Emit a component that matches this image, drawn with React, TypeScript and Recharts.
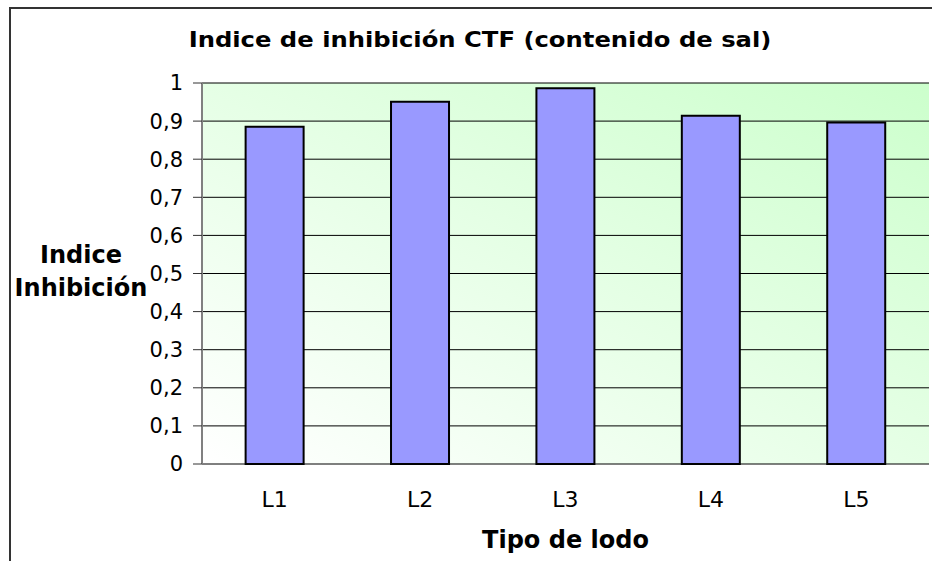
import React from "react";
import {
  BarChart,
  Bar,
  XAxis,
  YAxis,
  CartesianGrid,
  Label,
} from "recharts";

const categories = ["L1", "L2", "L3", "L4", "L5"];
const inhibition = [0.885, 0.951, 0.986, 0.914, 0.896];
const yTicks = [0, 0.1, 0.2, 0.3, 0.4, 0.5, 0.6, 0.7, 0.8, 0.9, 1];
const boundaryTicks = [0, 1, 2, 3, 4, 5];

const data = categories.map((name, i) => ({ name, value: inhibition[i] }));

const FONT = "'DejaVu Sans', 'Liberation Sans', Arial, sans-serif";
const GRAY = "#808080";

const YLabel = ({ viewBox }: any) => {
  const cx = viewBox.x + 81;
  return (
    <text
      textAnchor="middle"
      fontFamily={FONT}
      fontWeight="bold"
      fontSize={24}
      fill="#000"
    >
      <tspan x={cx} y={263}>
        Indice
      </tspan>
      <tspan x={cx} y={296}>
        Inhibición
      </tspan>
    </text>
  );
};

const XLabel = ({ viewBox }: any) => (
  <text
    x={viewBox.x + viewBox.width / 2}
    y={viewBox.y + 84}
    textAnchor="middle"
    fontFamily={FONT}
    fontWeight="bold"
    fontSize={24}
    fill="#000"
  >
    Tipo de lodo
  </text>
);

export default function App() {
  return (
    <div
      style={{
        position: "absolute",
        left: 0,
        top: 0,
        width: 932,
        height: 561,
        background: "#fff",
        overflow: "hidden",
        fontFamily: FONT,
      }}
    >
      <div
        style={{
          position: "absolute",
          left: 9,
          top: 7,
          width: 940,
          height: 570,
          borderLeft: "2px solid #333",
          borderTop: "2px solid #333",
        }}
      />
      <div
        style={{
          position: "absolute",
          left: 0,
          top: 30,
          width: 960,
          textAlign: "center",
          fontSize: 21,
          lineHeight: "21px",
          fontWeight: "bold",
          color: "#000",
          transform: "scaleX(1.155)",
        }}
      >
        Indice de inhibición CTF (contenido de sal)
      </div>
      <div style={{ position: "absolute", left: 0, top: 0 }}>
        <BarChart
          width={932}
          height={561}
          data={data}
          margin={{ top: 83, right: 3, bottom: 0, left: 0 }}
          barCategoryGap="30%"
        >
          <defs>
            <linearGradient id="plotBg" x1="0" y1="1" x2="1" y2="0">
              <stop offset="0%" stopColor="#ffffff" />
              <stop offset="100%" stopColor="#ccffcc" />
            </linearGradient>
          </defs>
          <CartesianGrid
            vertical={false}
            stroke="#000"
            fill="url(#plotBg)"
            fillOpacity={1}
            yAxisId="left"
            xAxisId="cat"
          />
          <XAxis
            xAxisId="grid"
            type="number"
            domain={[0, 5]}
            ticks={boundaryTicks}
            height={0}
            tickSize={7}
            tickFormatter={() => ""}
            axisLine={{ stroke: GRAY, strokeWidth: 2 }}
            tickLine={{ stroke: "#333" }}
            allowDataOverflow
          />
          <XAxis
            xAxisId="cat"
            dataKey="name"
            height={97}
            axisLine={false}
            tickLine={false}
            tickSize={0}
            tickMargin={27}
            tick={{ fill: "#000", fontSize: 22, fontFamily: FONT }}
          >
            <Label content={<XLabel />} />
          </XAxis>
          <XAxis
            xAxisId="top"
            orientation="top"
            dataKey="name"
            height={0}
            tick={false}
            axisLine={{ stroke: GRAY, strokeWidth: 2 }}
          />
          <YAxis
            yAxisId="left"
            width={202}
            domain={[0, 1]}
            ticks={yTicks}
            tickSize={9}
            tickMargin={10}
            tickFormatter={(v: number) => String(v).replace(".", ",")}
            tick={{ fill: "#000", fontSize: 21, fontFamily: FONT }}
            axisLine={{ stroke: GRAY, strokeWidth: 2 }}
            tickLine={{ stroke: "#333" }}
          >
            <Label content={<YLabel />} />
          </YAxis>
          <YAxis
            yAxisId="right"
            orientation="right"
            width={0}
            domain={[0, 1]}
            tick={false}
            axisLine={{ stroke: GRAY, strokeWidth: 2 }}
          />
          <Bar
            dataKey="value"
            xAxisId="cat"
            yAxisId="left"
            fill="#9999ff"
            stroke="#000"
            strokeWidth={2}
            isAnimationActive={false}
          />
        </BarChart>
      </div>
    </div>
  );
}
